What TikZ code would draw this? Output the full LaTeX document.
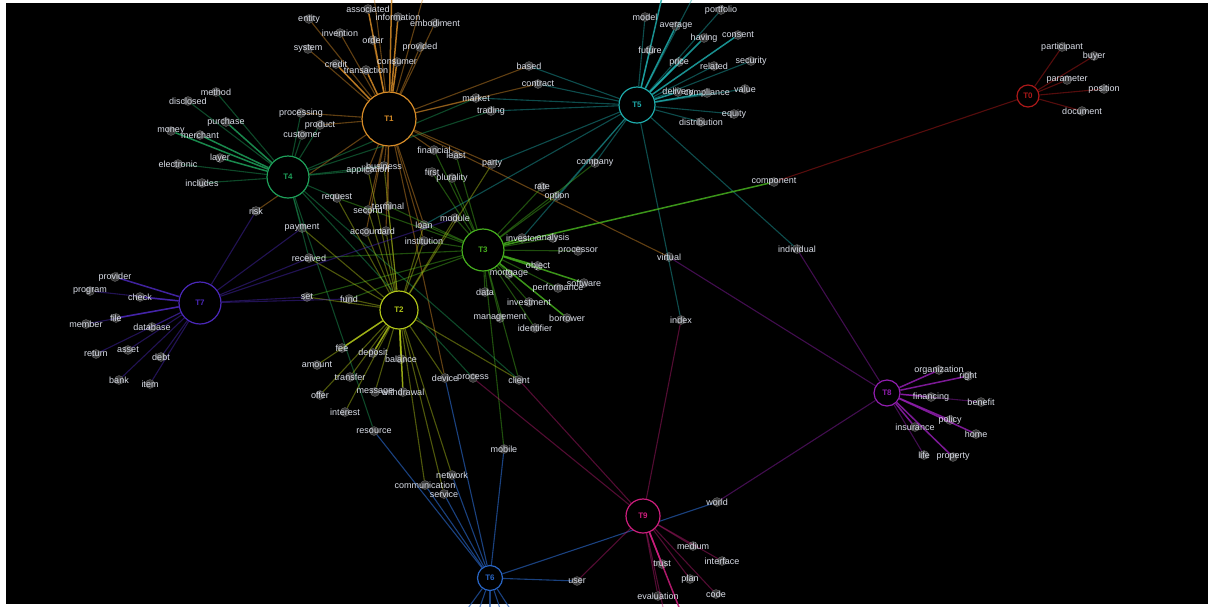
\documentclass[tikz,border=0pt]{standalone}
\usepackage{fontspec}
\setmainfont{Liberation Sans}
\usetikzlibrary{backgrounds}
\definecolor{tzero}{RGB}{170,25,25}
\definecolor{tone}{RGB}{215,140,40}
\definecolor{ttwo}{RGB}{175,195,25}
\definecolor{tthree}{RGB}{70,175,30}
\definecolor{tfour}{RGB}{30,160,90}
\definecolor{tfive}{RGB}{30,170,170}
\definecolor{tsix}{RGB}{40,100,195}
\definecolor{tseven}{RGB}{75,40,185}
\definecolor{teight}{RGB}{145,30,175}
\definecolor{tnine}{RGB}{205,30,125}
\definecolor{wordtext}{RGB}{218,222,232}
\tikzset{
    topic/.style =  {circle,
                    fill=black,
                    very thick,
                    inner sep=0pt,
                    font=\fontsize{8}{9}\selectfont\bfseries},
    dot/.style =    {circle,
                    fill=white,
                    fill opacity=.22,
                    draw=white,
                    draw opacity=.3,
                    inner sep=0pt,
                    minimum size=9pt},
    wtext/.style =  {text=wordtext,
                    inner sep=0pt,
                    font=\fontsize{9}{10}\selectfont},
    link/.style =   {line width=1.1pt,
                    draw opacity=.45},
    strong/.style = {line width=1.5pt,
                    draw opacity=.85}}
% one word: its dot, then its text on top
\newcommand{\wordat}[3]{\node[dot] (#1) at (#2) {}; \node[wtext] at (#2) {#3};}

\begin{document}
\begin{tikzpicture}[x=1pt,y=-1pt]
\useasboundingbox (0,0) rectangle (1211,606);
% topics
\node[topic, draw=tone,   text=tone,   minimum size=54pt] (T1) at (389,119) {T1};
\node[topic, draw=tfour,  text=tfour,  minimum size=42pt] (T4) at (288,177) {T4};
\node[topic, draw=tfive,  text=tfive,  minimum size=36pt] (T5) at (637,105) {T5};
\node[topic, draw=tthree, text=tthree, minimum size=42pt] (T3) at (483,250) {T3};
\node[topic, draw=ttwo,   text=ttwo,   minimum size=38pt] (T2) at (399,310) {T2};
\node[topic, draw=tseven, text=tseven, minimum size=42pt] (T7) at (200,303) {T7};
\node[topic, draw=teight, text=teight, minimum size=26pt] (T8) at (887,393) {T8};
\node[topic, draw=tnine,  text=tnine,  minimum size=34pt] (T9) at (643,516) {T9};
\node[topic, draw=tsix,   text=tsix,   minimum size=25pt] (T6) at (490,578) {T6};
\node[topic, draw=tzero,  text=tzero,  minimum size=22pt] (T0) at (1028,96) {T0};
% words
\wordat{associated}{368,9}{associated}
\wordat{information}{398,17}{information}
\wordat{embodiment}{435,23}{embodiment}
\wordat{entity}{309,19}{entity}
\wordat{invention}{340,33}{invention}
\wordat{order}{373,40}{order}
\wordat{system}{308,49}{system}
\wordat{provided}{420,47}{provided}
\wordat{credit}{336,64}{credit}
\wordat{transaction}{366,70}{transaction}
\wordat{consumer}{397,62}{consumer}
\wordat{processing}{301,113}{processing}
\wordat{product}{320,125}{product}
\wordat{customer}{302,135}{customer}
\wordat{based}{529,66}{based}
\wordat{contract}{538,84}{contract}
\wordat{market}{476,98}{market}
\wordat{trading}{491,111}{trading}
\wordat{financial}{434,150}{financial}
\wordat{least}{456,155}{least}
\wordat{party}{492,164}{party}
\wordat{first}{432,172}{first}
\wordat{plurality}{452,178}{plurality}
\wordat{business}{384,166}{business}
\wordat{application}{368,170}{application}
\wordat{rate}{542,187}{rate}
\wordat{option}{557,196}{option}
\wordat{company}{595,163}{company}
\wordat{method}{216,92}{method}
\wordat{disclosed}{188,101}{disclosed}
\wordat{purchase}{226,122}{purchase}
\wordat{money}{171,131}{money}
\wordat{merchant}{200,135}{merchant}
\wordat{layer}{220,158}{layer}
\wordat{electronic}{178,164}{electronic}
\wordat{includes}{202,183}{includes}
\wordat{risk}{256,211}{risk}
\wordat{request}{337,198}{request}
\wordat{payment}{302,228}{payment}
\wordat{received}{309,258}{received}
\wordat{terminal}{388,206}{terminal}
\wordat{second}{368,210}{second}
\wordat{loan}{424,225}{loan}
\wordat{module}{455,218}{module}
\wordat{account}{366,232}{account}
\wordat{card}{386,231}{card}
\wordat{institution}{424,241}{institution}
\wordat{investor}{522,238}{investor}
\wordat{analysis}{553,238}{analysis}
\wordat{processor}{578,251}{processor}
\wordat{object}{538,266}{object}
\wordat{mortgage}{509,274}{mortgage}
\wordat{software}{584,283}{software}
\wordat{performance}{558,288}{performance}
\wordat{data}{485,292}{data}
\wordat{investment}{529,302}{investment}
\wordat{management}{500,318}{management}
\wordat{borrower}{567,318}{borrower}
\wordat{identifier}{535,328}{identifier}
\wordat{component}{774,182}{component}
\wordat{set}{307,297}{set}
\wordat{fund}{349,299}{fund}
\wordat{fee}{342,348}{fee}
\wordat{deposit}{373,353}{deposit}
\wordat{balance}{401,359}{balance}
\wordat{amount}{317,365}{amount}
\wordat{transfer}{350,377}{transfer}
\wordat{device}{445,378}{device}
\wordat{process}{473,378}{process}
\wordat{client}{519,380}{client}
\wordat{offer}{320,395}{offer}
\wordat{message}{375,392}{message}
\wordat{withdrawal}{403,392}{withdrawal}
\wordat{interest}{345,412}{interest}
\wordat{resource}{374,431}{resource}
\wordat{network}{452,475}{network}
\wordat{communication}{425,485}{communication}
\wordat{service}{444,494}{service}
\wordat{mobile}{504,449}{mobile}
\wordat{provider}{115,277}{provider}
\wordat{program}{90,291}{program}
\wordat{check}{140,297}{check}
\wordat{file}{116,318}{file}
\wordat{member}{86,324}{member}
\wordat{database}{152,327}{database}
\wordat{return}{96,354}{return}
\wordat{asset}{128,350}{asset}
\wordat{debt}{161,357}{debt}
\wordat{bank}{119,380}{bank}
\wordat{item}{150,384}{item}
\wordat{model}{645,17}{model}
\wordat{portfolio}{721,10}{portfolio}
\wordat{average}{676,26}{average}
\wordat{having}{704,38}{having}
\wordat{consent}{738,35}{consent}
\wordat{future}{650,50}{future}
\wordat{price}{679,62}{price}
\wordat{related}{714,66}{related}
\wordat{security}{751,61}{security}
\wordat{delivery}{678,92}{delivery}
\wordat{compliance}{707,93}{compliance}
\wordat{value}{745,89}{value}
\wordat{equity}{734,114}{equity}
\wordat{distribution}{701,122}{distribution}
\wordat{individual}{797,249}{individual}
\wordat{index}{681,320}{index}
\wordat{virtual}{669,257}{virtual}
\wordat{organization}{939,370}{organization}
\wordat{right}{968,376}{right}
\wordat{financing}{931,397}{financing}
\wordat{benefit}{981,402}{benefit}
\wordat{policy}{950,420}{policy}
\wordat{insurance}{915,427}{insurance}
\wordat{home}{976,434}{home}
\wordat{life}{924,455}{life}
\wordat{property}{953,457}{property}
\wordat{world}{717,502}{world}
\wordat{medium}{693,546}{medium}
\wordat{trust}{662,564}{trust}
\wordat{interface}{722,561}{interface}
\wordat{plan}{690,579}{plan}
\wordat{evaluation}{658,596}{evaluation}
\wordat{code}{716,594}{code}
\wordat{user}{577,581}{user}
\wordat{participant}{1062,47}{participant}
\wordat{buyer}{1094,56}{buyer}
\wordat{parameter}{1067,80}{parameter}
\wordat{position}{1104,89}{position}
\wordat{document}{1082,111}{document}
% ends that leave the frame
\coordinate (T1up1) at (372,-20);
\coordinate (T1up2) at (392,-20);
\coordinate (T1up3) at (428,-20);
\coordinate (T5up1) at (666,-20);
\coordinate (T5up2) at (702,-20);
\coordinate (T6dn1) at (452,630);
\coordinate (T6dn2) at (472,630);
\coordinate (T6dn3) at (490,630);
\coordinate (T6dn4) at (507,630);
\coordinate (T6dn5) at (524,630);
\coordinate (T9dn1) at (688,630);
\coordinate (T9dn2) at (668,630);

\begin{pgfonlayer}{background}
\fill[white] (0,0) rectangle (1211,606);
\fill[black] (6,3) rectangle (1208,604);
% T1
\foreach \w in {embodiment,entity,invention,order,system,provided,processing,product,based,contract,market,business,application,second,terminal,account,card,loan,institution,financial,party,virtual,risk,device,T1up1,T1up3}
    \draw[link, tone] (T1) -- (\w);
\foreach \w in {associated,information,credit,transaction,consumer,T1up2}
    \draw[strong, tone] (T1) -- (\w);
% T4
\foreach \w in {method,disclosed,electronic,includes,processing,product,customer,market,trading,application,business,request,payment,received,resource,client,process}
    \draw[link, tfour] (T4) -- (\w);
\foreach \w in {purchase,money,merchant,layer}
    \draw[strong, tfour] (T4) -- (\w);
% T5
\foreach \w in {model,portfolio,future,related,security,value,equity,distribution,based,contract,market,trading,party,company,option,investor,loan,individual,index,T5up2}
    \draw[link, tfive] (T5) -- (\w);
\foreach \w in {average,having,consent,price,delivery,compliance,T5up1}
    \draw[strong, tfive] (T5) -- (\w);
% T3
\foreach \w in {analysis,processor,mortgage,performance,data,investment,management,identifier,module,loan,institution,first,plurality,financial,least,mobile,client,set,fund,company,option,rate,request,terminal,received}
    \draw[link, tthree] (T3) -- (\w);
\foreach \w in {investor,object,software,borrower,component}
    \draw[strong, tthree] (T3) -- (\w);
% T2
\foreach \w in {set,fund,amount,transfer,offer,message,interest,network,communication,service,client,card,account,second,terminal,request,payment,received,institution,module,loan,application,business,party,device}
    \draw[link, ttwo] (T2) -- (\w);
\foreach \w in {fee,deposit,balance,withdrawal}
    \draw[strong, ttwo] (T2) -- (\w);
% T7
\foreach \w in {program,member,database,return,asset,debt,bank,item,risk,payment,received,set,fund,module}
    \draw[link, tseven] (T7) -- (\w);
\foreach \w in {provider,check,file}
    \draw[strong, tseven] (T7) -- (\w);
% T6
\foreach \w in {resource,communication,network,service,device,mobile,user,world,T6dn1,T6dn2,T6dn3,T6dn4,T6dn5}
    \draw[link, tsix, draw opacity=.65] (T6) -- (\w);
% T8
\foreach \w in {benefit,life,individual,world,virtual}
    \draw[link, teight] (T8) -- (\w);
\foreach \w in {organization,right,financing,policy,insurance,home,property}
    \draw[strong, teight] (T8) -- (\w);
% T9
\foreach \w in {medium,interface,plan,evaluation,code,user,index,process,client,T9dn2}
    \draw[link, tnine, draw opacity=.4] (T9) -- (\w);
\foreach \w in {trust,T9dn1}
    \draw[strong, tnine] (T9) -- (\w);
% T0
\foreach \w in {participant,buyer,parameter,position,document,component}
    \draw[link, tzero, draw opacity=.5] (T0) -- (\w);
\end{pgfonlayer}
\end{tikzpicture}
\end{document}
